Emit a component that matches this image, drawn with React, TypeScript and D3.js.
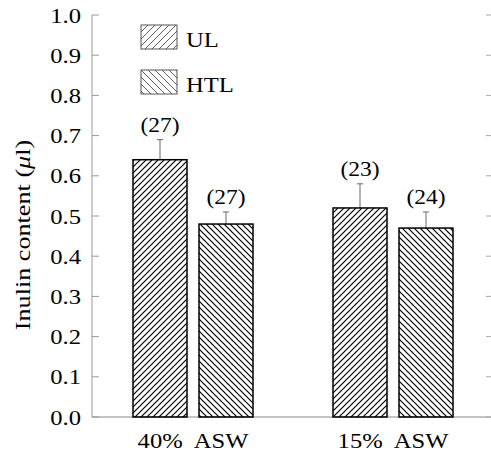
import React from "react";
import * as d3 from "d3";

const groups = ["40% ASW", "15% ASW"];
const series = ["UL", "HTL"];
const values = [
  [0.64, 0.48],
  [0.52, 0.47],
];
const errTops = [
  [0.69, 0.51],
  [0.58, 0.51],
];
const counts = [
  ["(27)", "(27)"],
  ["(23)", "(24)"],
];
const yTicks = [0, 0.1, 0.2, 0.3, 0.4, 0.5, 0.6, 0.7, 0.8, 0.9, 1.0];

const W = 491;
const H = 453;
const FONT = "'Liberation Serif', 'Times New Roman', serif";
const SX = 1.12;

export default function App() {
  const y = d3.scaleLinear().domain([0, 1]).range([417, 15]);
  const x0 = d3.scaleBand<string>().domain(groups).range([93, 493]);
  const x1 = d3
    .scaleBand<string>()
    .domain(series)
    .range([-60, 60])
    .paddingInner(12 / 66);
  const patId = (s: string) => (s === "UL" ? "hatchUL" : "hatchHTL");

  return (
    <svg
      width={W}
      height={H}
      style={{ position: "absolute", left: 0, top: 0, background: "#fff" }}
      fontFamily={FONT}
    >
      <defs>
        <pattern id="hatchUL" patternUnits="userSpaceOnUse" width={6} height={6}>
          <path d="M0,6 L6,0 M-1,1 L1,-1 M5,7 L7,5" stroke="#000" strokeWidth={1.2} />
        </pattern>
        <pattern id="hatchHTL" patternUnits="userSpaceOnUse" width={6} height={6}>
          <path d="M0,0 L6,6 M-1,5 L1,7 M5,-1 L7,1" stroke="#000" strokeWidth={1.2} />
        </pattern>
        <pattern id="legUL" patternUnits="userSpaceOnUse" width={7} height={7}>
          <path d="M0,7 L7,0 M-1,1 L1,-1 M6,8 L8,6" stroke="#333" strokeWidth={0.8} />
        </pattern>
        <pattern id="legHTL" patternUnits="userSpaceOnUse" width={7} height={7}>
          <path d="M0,0 L7,7 M-1,6 L1,8 M6,-1 L8,1" stroke="#333" strokeWidth={0.8} />
        </pattern>
      </defs>

      {/* axes */}
      <line x1={92} x2={92} y1={y(1)} y2={y(0)} stroke="#999" strokeWidth={1} />
      <line x1={92} x2={491} y1={y(0)} y2={y(0)} stroke="#888" strokeWidth={1} />
      {yTicks.map((t) => (
        <g key={t}>
          <line x1={92} x2={99} y1={y(t)} y2={y(t)} stroke="#999" strokeWidth={1} />
          <line x1={486} x2={491} y1={y(t)} y2={y(t)} stroke="#aaa" strokeWidth={1} />
          <text
            transform={`translate(81,${y(t)}) scale(${SX},1)`}
            textAnchor="end"
            dominantBaseline="central"
            fontSize={22}
          >
            {t.toFixed(1)}
          </text>
        </g>
      ))}

      {/* y label */}
      <text
        transform={`translate(30,235) rotate(-90) scale(1.19,1)`}
        textAnchor="middle"
        fontSize={22}
      >
        Inulin content (<tspan fontStyle="italic">μ</tspan>l)
      </text>

      {/* bars */}
      {groups.map((g, gi) => (
        <g key={g}>
          {series.map((s, si) => {
            const bx = (x0(g) as number) + x0.bandwidth() / 2 + (x1(s) as number);
            const bw = x1.bandwidth();
            const cx = bx + bw / 2;
            const v = values[gi][si];
            const e = errTops[gi][si];
            return (
              <g key={s}>
                <line x1={cx} x2={cx} y1={y(v)} y2={y(e)} stroke="#666" strokeWidth={1} />
                <line x1={cx - 3} x2={cx + 3} y1={y(e)} y2={y(e)} stroke="#666" strokeWidth={1} />
                <rect
                  x={bx}
                  y={y(v)}
                  width={bw}
                  height={y(0) - y(v)}
                  fill={`url(#${patId(s)})`}
                  stroke="#000"
                  strokeWidth={1.5}
                />
                <text
                  transform={`translate(${cx},${y(e) - 8}) scale(${SX},1)`}
                  textAnchor="middle"
                  fontSize={21}
                >
                  {counts[gi][si]}
                </text>
              </g>
            );
          })}
          <text
            transform={`translate(${(x0(g) as number) + x0.bandwidth() / 2},448) scale(${SX},1)`}
            textAnchor="middle"
            fontSize={22}
            style={{ whiteSpace: "pre" }}
          >
            {g.replace(" ", "  ")}
          </text>
        </g>
      ))}

      {/* legend */}
      {series.map((s, i) => (
        <g key={s} transform={`translate(141,${25 + i * 45})`}>
          <rect
            x={0}
            y={0}
            width={36}
            height={24}
            fill={`url(#${s === "UL" ? "legUL" : "legHTL"})`}
            stroke="#555"
            strokeWidth={1}
          />
          <text transform={`translate(45,22) scale(${SX},1)`} fontSize={22}>
            {s}
          </text>
        </g>
      ))}
    </svg>
  );
}
